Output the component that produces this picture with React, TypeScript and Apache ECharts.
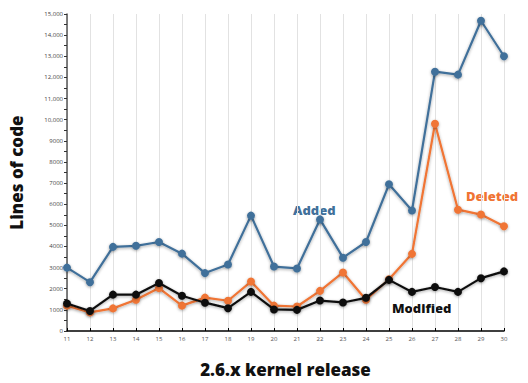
import React, { useEffect, useRef } from "react";
import * as echarts from "echarts";

const releases = ["11","12","13","14","15","16","17","18","19","20","21","22","23","24","25","26","27","28","29","30"];
const added = [3000,2310,3980,4030,4210,3660,2740,3150,5460,3050,2960,5280,3470,4210,6940,5700,12270,12130,14680,13000];
const deleted = [1200,880,1070,1480,2030,1200,1580,1430,2340,1200,1160,1900,2770,1480,2450,3650,9810,5740,5510,4960];
const modified = [1300,950,1720,1720,2270,1670,1340,1080,1850,1020,1000,1440,1350,1570,2420,1850,2080,1850,2500,2820];

const BLUE = "#41709a";
const ORANGE = "#f07434";
const BLACK = "#111111";
const FONT = "'Open Sans'";

export default function App() {
  const ref = useRef<HTMLDivElement>(null);
  useEffect(() => {
    const chart = echarts.init(ref.current!, null, { renderer: "svg" });
    const mk = (name: string, data: number[], color: string, z: number) => ({
      name,
      type: "line",
      data,
      z,
      symbol: "circle",
      symbolSize: 8,
      itemStyle: { color, shadowColor: "rgba(0,0,0,0.35)", shadowBlur: 3, shadowOffsetY: 1 },
      lineStyle: { color, width: 2.2, shadowColor: "rgba(0,0,0,0.35)", shadowBlur: 3, shadowOffsetY: 1 },
    });
    chart.setOption({
      animation: false,
      grid: { left: 63, right: 24, top: 14, bottom: 45 },
      xAxis: {
        type: "category",
        data: releases,
        boundaryGap: false,
        axisLine: { lineStyle: { color: "#000", width: 1.5 } },
        axisTick: { show: true, inside: true, length: 3, lineStyle: { color: "#000" } },
        axisLabel: { fontSize: 6, color: "#555", margin: 5, fontFamily: FONT },
        splitLine: { show: true, lineStyle: { color: "#e2e2e2", width: 1 } },
        name: "2.6.x kernel release",
        nameLocation: "middle",
        nameGap: 30,
        nameTextStyle: { fontSize: 17, fontWeight: 800, color: "#111", fontFamily: FONT },
      },
      yAxis: {
        type: "value",
        min: 0,
        max: 15000,
        interval: 1000,
        axisLine: { show: true, lineStyle: { color: "#555", width: 1.5 } },
        axisTick: { show: true, length: 3, lineStyle: { color: "#333" } },
        minorTick: { show: true, splitNumber: 2, length: 3, lineStyle: { color: "#333" } },
        splitLine: { show: false },
        axisLabel: {
          fontSize: 6,
          color: "#444",
          margin: 4,
          fontFamily: FONT,
          formatter: (v: number) => (v >= 10000 ? v.toLocaleString("en-US") : String(v)),
        },
        name: "Lines of code",
        nameLocation: "middle",
        nameGap: 42,
        nameRotate: 90,
        nameTextStyle: { fontSize: 17, fontWeight: 800, color: "#111", fontFamily: FONT },
      },
      series: [mk("Added", added, BLUE, 3), mk("Deleted", deleted, ORANGE, 2), mk("Modified", modified, BLACK, 4)],
      graphic: [
        { type: "text", left: 293, top: 203, style: { text: "Added", fill: BLUE, font: `800 13px ${FONT}` } },
        { type: "text", left: 466, top: 189, style: { text: "Deleted", fill: ORANGE, font: `800 13px ${FONT}` } },
        { type: "text", left: 392, top: 301, style: { text: "Modified", fill: "#111", font: `800 13px ${FONT}` } },
      ],
    });
    return () => chart.dispose();
  }, []);
  return <div ref={ref} style={{ width: 528, height: 383, position: "absolute", left: 0, top: 0, background: "#fff" }} />;
}
